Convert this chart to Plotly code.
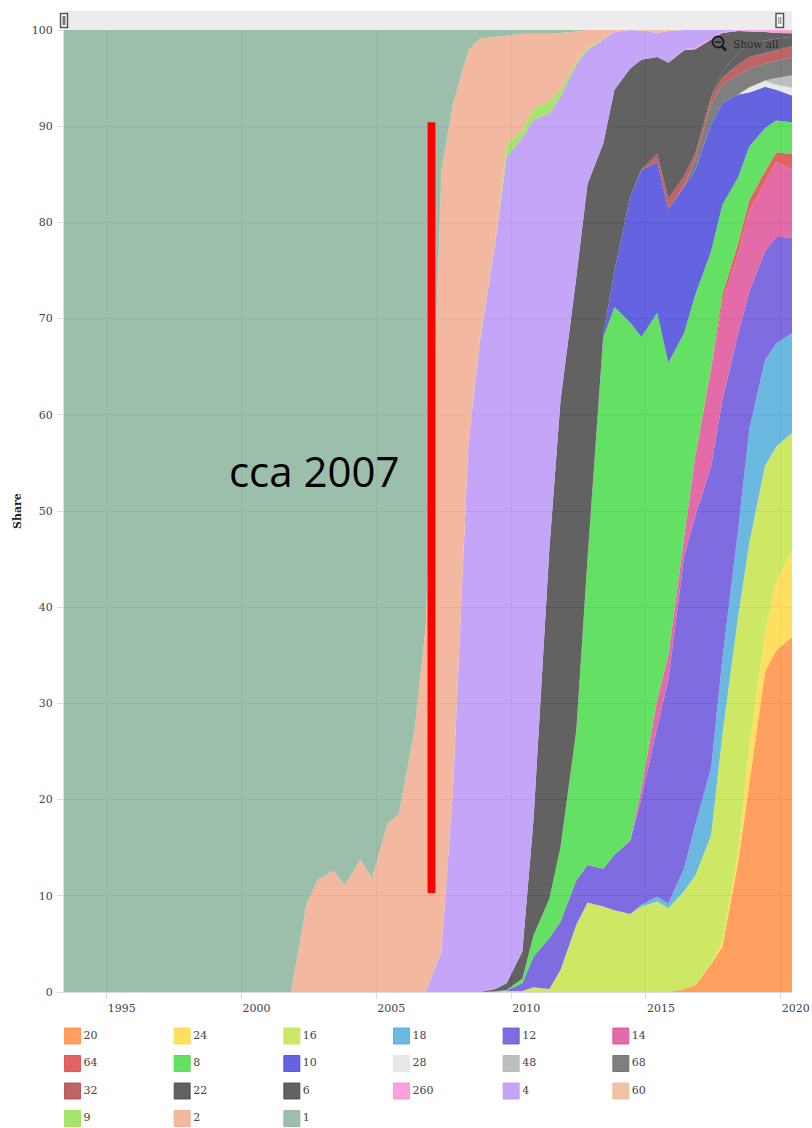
import plotly.graph_objects as go

W, H = 812, 1128
PL, PR, PT, PB = 64, 792, 30, 992

dates = [1993.417, 2001.417, 2001.833, 2002.417, 2002.833, 2003.417, 2003.833, 2004.417, 2004.833,
         2005.417, 2005.833, 2006.417, 2006.833, 2007.417, 2007.833, 2008.417, 2008.833, 2009.417,
         2009.833, 2010.417, 2010.833, 2011.417, 2011.833, 2012.417, 2012.833, 2013.417, 2013.833,
         2014.417, 2014.833, 2015.417, 2015.833, 2016.417, 2016.833, 2017.417, 2017.833, 2018.417,
         2018.833, 2019.417, 2019.833, 2020.417]

# Upper edge of each stacked band (bottom band first)
top_20 = [0]*31 + [0.3, 0.73, 2.9, 4.7, 13.5, 21.7, 33.3, 35.5, 36.9]
top_24 = [0]*31 + [0.3, 0.75, 3.0, 5.2, 14.5, 25.5, 37.3, 42.7, 45.9]
top_16 = [0]*17 + [.05, .1, .1, .5, .3, 2.3, 7, 9.3, 8.9, 8.5, 8.1, 8.9, 9.4, 8.7, 10.5, 12.1, 16.3, 26.7, 39, 46.7, 54.7, 56.7, 58.1]
top_18 = [0]*17 + [.05, .1, .1, .5, .3, 2.3, 7, 9.3, 8.9, 8.5, 8.1, 9.1, 9.9, 9.2, 12.9, 17.4, 23.3, 34.6, 48, 58.5, 65.7, 67.4, 68.5]
top_12 = [0]*17 + [.05, .15, .9, 3.7, 5.6, 7.3, 11.6, 13.2, 12.8, 14.3, 15.7, 20.2, 27.5, 32.5, 45.3, 49.5, 54.6, 61.5, 68.4, 72.8, 77, 78.5, 78.4]
top_14 = [0]*17 + [.05, .15, .9, 3.7, 5.6, 7.3, 11.6, 13.2, 12.8, 14.3, 15.8, 21.2, 30.4, 35, 47.3, 55.7, 64.7, 71.7, 76.8, 81.2, 84.2, 86.3, 85.5]
top_64 = [0]*17 + [.05, .15, .9, 3.7, 5.6, 7.3, 11.6, 13.2, 12.8, 14.3, 15.8, 21.2, 30.4, 35, 47.3, 55.8, 64.9, 72.5, 77.8, 82.3, 85.3, 87.3, 87.1]
top_8 = [0]*17 + [.05, .2, 1.4, 5.9, 9.7, 15.1, 27.2, 45, 68, 71.2, 69.6, 68.1, 70.6, 65.4, 68.5, 72.5, 77, 81.8, 84.7, 87.9, 89.8, 90.6, 90.4]
top_10 = [0]*17 + [.05, .2, 1.4, 5.9, 9.7, 15.1, 27.2, 45, 68.3, 75, 82.7, 85.4, 86.3, 81.4, 83.7, 85.5, 90.2, 92.4, 93.3, 93.5, 94.1, 93.8, 93.2]
top_28 = [0]*17 + [.05, .2, 1.4, 5.9, 9.7, 15.1, 27.2, 45, 68.3, 75, 82.7, 85.4, 86.3, 81.4, 83.7, 85.5, 90.2, 92.4, 93.3, 94.0, 94.7, 94.3, 94.0]
top_48 = [0]*17 + [.05, .2, 1.4, 5.9, 9.7, 15.1, 27.2, 45, 68.3, 75, 82.7, 85.4, 86.3, 81.4, 83.7, 85.5, 90.2, 92.4, 93.3, 94.05, 94.75, 95.0, 95.3]
top_68 = [0]*17 + [.05, .2, 1.4, 5.9, 9.7, 15.1, 27.2, 45, 68.3, 75, 82.7, 85.4, 86.3, 81.4, 83.8, 86.6, 92.3, 94.3, 95.3, 96, 96.5, 96.8, 97.2]
top_32 = [0]*17 + [.05, .2, 1.4, 5.9, 9.7, 15.1, 27.2, 45, 68.3, 75, 82.7, 85.5, 87.1, 82.5, 84.8, 87.2, 93, 95.1, 96.4, 97.2, 97.6, 97.9, 98.3]
top_22 = [0]*17 + [.05, .2, 1.4, 5.9, 9.7, 15.1, 27.2, 45, 68.3, 75, 82.7, 85.5, 87.1, 82.5, 84.8, 87.2, 93.05, 95.7, 97.6, 98.6, 98.9, 99.1, 99.3]
top_6 = [0]*17 + [.3, .9, 4.2, 18, 46, 61.5, 74.3, 84, 88.2, 93.8, 96, 96.9, 97.2, 96.6, 97.9, 98, 99, 99.7, 99.9, 99.85, 99.8, 99.7, 99.65]
top_260 = [0]*17 + [.3, .9, 4.2, 18, 46, 61.5, 74.3, 84, 88.2, 93.8, 96, 96.9, 97.2, 96.6, 98, 98.15, 99.15, 99.8, 100, 100, 100, 100, 100]
top_4 = [0]*13 + [4.2, 20.5, 57, 67.5, 78, 86.8, 88.8, 90.7, 91.3, 93.1, 96.4, 97.9, 99, 99.8, 100, 99.95, 99.7, 99.9, 100, 100, 100, 100, 100, 100, 100, 100, 100]
top_60 = [0]*13 + [4.2, 20.5, 57, 67.5, 78, 86.8, 88.8, 90.7, 91.3, 93.1, 96.4, 97.9, 99, 99.8, 100, 100, 100, 100, 100, 100, 100, 100, 100, 100, 100, 100, 100]
top_9 = [0]*13 + [4.2, 20.5, 57, 67.7, 78.2, 88, 89.6, 91.9, 92.6, 93.8, 96.7, 98.1, 99.1, 99.8, 100, 100, 100, 100, 100, 100, 100, 100, 100, 100, 100, 100, 100]
top_2 = [0, 0, 0, 9.2, 11.7, 12.6, 11.1, 13.8, 11.8, 17.5, 18.5, 27.2, 38, 85.4, 92.2, 97.9, 99.1, 99.3, 99.4, 99.6,
         99.6, 99.6, 99.7, 99.85, 100, 100, 100, 100, 100, 100, 100, 100, 100, 100, 100, 100, 100, 100, 100, 100]
top_1 = [100]*40

names = ["20", "24", "16", "18", "12", "14", "64", "8", "10", "28", "48", "68", "32", "22", "6", "260", "4", "60", "9", "2", "1"]
tops = [top_20, top_24, top_16, top_18, top_12, top_14, top_64, top_8, top_10, top_28, top_48, top_68,
        top_32, top_22, top_6, top_260, top_4, top_60, top_9, top_2, top_1]
colors = ["#FFA060", "#FFDF60", "#CDE864", "#6BB8E0", "#7F6CE0", "#E26BA8", "#E06464", "#64E064", "#6464E0",
          "#E8E8E8", "#BEBEBE", "#7F7F7F", "#BF6464", "#626262", "#626262", "#FDA1DE", "#C4A5F8", "#F2C2A4",
          "#A8E46E", "#F3B9A0", "#9CBFAB"]
year_ticks = [1995, 2000, 2005, 2010, 2015, 2020]
share_ticks = [0, 10, 20, 30, 40, 50, 60, 70, 80, 90, 100]
ALPHA = 0.85


def fx(p):
    return p / W


def fy(p):
    return 1 - p / H


def rgba(c):
    parts = [int(c[i:i + 2], 16) for i in (1, 3, 5)]
    parts = [max(0, min(255, round((v - 255 * (1 - ALPHA)) / ALPHA))) for v in parts]
    return f"rgba({parts[0]},{parts[1]},{parts[2]},{ALPHA})"


fig = go.Figure()
prev = [0] * len(dates)
for name, top, col in zip(names, tops, colors):
    share = [max(0.0, round(a - b, 3)) for a, b in zip(top, prev)]
    prev = top
    fig.add_trace(go.Scatter(x=dates, y=share, name=name, stackgroup="one", mode="none",
                             fillcolor=rgba(col), showlegend=False))

# Legend grid: six columns, filled row by row
for i, (name, col) in enumerate(zip(names, colors)):
    row, column = divmod(i, 6)
    fig.add_trace(go.Scatter(x=[column], y=[row], xaxis="x2", yaxis="y2", mode="markers+text",
                             name=name, text=[name], textposition="middle right", showlegend=False,
                             hoverinfo="skip", cliponaxis=False,
                             textfont=dict(family="DejaVu Serif", size=11, color="#444444"),
                             marker=dict(symbol="square", size=16, color=rgba(col),
                                         line=dict(width=1, color=rgba(col)))))

shapes = [
    dict(type="rect", xref="paper", yref="paper", x0=fx(PL), x1=fx(PR), y0=fy(11), y1=fy(30),
         fillcolor="#ececec", line_width=0, layer="below"),
    # Red marker bar
    dict(type="rect", xref="x", yref="y", x0=2006.9, x1=2007.19, y0=10.3, y1=90.4,
         fillcolor="#ff0000", line_width=0),
    # Range handles
    dict(type="rect", xref="paper", yref="paper", x0=fx(60.5), x1=fx(67.5), y0=fy(13.5), y1=fy(27.5),
         fillcolor="#ffffff", line=dict(color="#555555", width=1.5)),
    dict(type="rect", xref="paper", yref="paper", x0=fx(62.5), x1=fx(65.5), y0=fy(16), y1=fy(25),
         fillcolor="#777777", line_width=0),
    dict(type="rect", xref="paper", yref="paper", x0=fx(776), x1=fx(783.5), y0=fy(13.5), y1=fy(27.5),
         fillcolor="#ffffff", line=dict(color="#555555", width=1.5)),
    dict(type="line", xref="paper", yref="paper", x0=fx(778.8), x1=fx(778.8), y0=fy(17), y1=fy(24),
         line=dict(color="#777777", width=1)),
    dict(type="line", xref="paper", yref="paper", x0=fx(780.8), x1=fx(780.8), y0=fy(17), y1=fy(24),
         line=dict(color="#777777", width=1)),
    # "Show all" magnifier
    dict(type="circle", xref="paper", yref="paper", x0=fx(712.5), x1=fx(723.5), y0=fy(36.5), y1=fy(47.5),
         line=dict(color="#1c1c1c", width=2)),
    dict(type="line", xref="paper", yref="paper", x0=fx(722), x1=fx(726), y0=fy(46.5), y1=fy(50.5),
         line=dict(color="#1c1c1c", width=3)),
    dict(type="line", xref="paper", yref="paper", x0=fx(715), x1=fx(721), y0=fy(42), y1=fy(42),
         line=dict(color="#1c1c1c", width=1.5)),
]

annotations = [
    dict(text="cca 2007", xref="paper", yref="paper", x=fx(314), y=fy(470), showarrow=False,
         xanchor="center", yanchor="middle", font=dict(family="Open Sans", size=42, color="#000000")),
    dict(text="Show all", xref="paper", yref="paper", x=fx(756), y=fy(44), showarrow=False,
         xanchor="center", yanchor="middle", font=dict(family="DejaVu Serif", size=10.5, color="#2a2a2a")),
    dict(text="<b>Share</b>", xref="paper", yref="paper", x=fx(17), y=fy(511), showarrow=False, textangle=-90,
         xanchor="center", yanchor="middle", font=dict(family="DejaVu Serif", size=11, color="#222222")),
]

fig.update_layout(
    width=W, height=H, margin=dict(l=0, r=0, t=0, b=0), autosize=False,
    paper_bgcolor="#ffffff", plot_bgcolor="#ffffff", showlegend=False,
    shapes=shapes, annotations=annotations,
    font=dict(family="DejaVu Serif", size=11, color="#444444"),
    xaxis=dict(domain=[fx(PL), fx(PR)], range=[1993.417, 2020.417], tickvals=year_ticks, tickformat="d",
               ticks="outside", ticklen=6, tickcolor="#d8d8d8", ticklabelshift=15, showgrid=True,
               gridcolor="#c4c4c4", gridwidth=1, showline=True, linecolor="#dddddd", zeroline=False,
               automargin=False, tickfont=dict(family="DejaVu Serif", size=11, color="#444444")),
    yaxis=dict(domain=[fy(PB), fy(PT)], range=[0, 100], tickvals=share_ticks, ticks="outside", ticklen=6,
               tickcolor="#dddddd", showgrid=True, gridcolor="#c4c4c4", gridwidth=1, showline=True,
               linecolor="#dddddd", zeroline=False, ticklabelstandoff=2, automargin=False,
               tickfont=dict(family="DejaVu Serif", size=11, color="#444444")),
    xaxis2=dict(domain=[fx(PL), fx(PL + 658)], range=[-0.0775, 5.9225], visible=False, fixedrange=True),
    yaxis2=dict(domain=[0, fy(1022.25)], range=[3.345, -0.5], visible=False, fixedrange=True),
)

fig.write_html("out.html", config=dict(displayModeBar=False), post_script="document.body.style.margin='0';")
